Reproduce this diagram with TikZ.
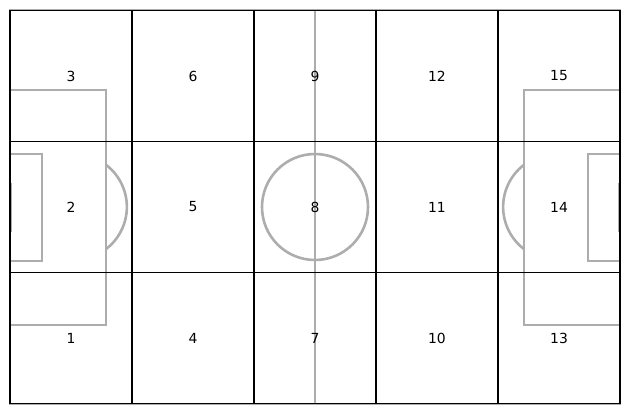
\documentclass[tikz,border=0pt]{standalone}
\usepackage{fontspec}
\setmainfont{DejaVu Sans}
\usepackage{xcolor}
\usepackage{tikz}
\definecolor{pitchgray}{HTML}{ADADAD}
\definecolor{zoneblack}{HTML}{000000}
\tikzset{every node/.append style={font=\fontsize{13.9}{16}\selectfont}}

\begin{document}
\begin{tikzpicture}[x=1pt,y=-1pt,
  pitch/.style={pitchgray,line width=2.6pt},
  zone/.style={draw=zoneblack,line width=1.4pt,minimum width=122pt,minimum height=131.33pt,inner sep=0pt}]
\useasboundingbox (0,0) rectangle (630,415);
% pitch markings
\draw[pitch] (10,10) rectangle (620,404);
\draw[pitch] (315,10)--(315,404);
\draw[pitch] (315,207) circle (53);
\draw[pitch] (10,90)--(106,90)--(106,325)--(10,325);
\draw[pitch] (10,154)--(42,154)--(42,261)--(10,261);
\draw[pitch] (106,164.8) arc[start angle=-52.7,end angle=52.7,radius=53];
\draw[pitch] (11,183)--(11,232);
\draw[pitch] (620,90)--(524,90)--(524,325)--(620,325);
\draw[pitch] (620,154)--(588,154)--(588,261)--(620,261);
\draw[pitch] (524,164.8) arc[start angle=232.7,end angle=127.3,radius=53];
\draw[pitch] (619,183)--(619,232);
% zones
\foreach \c in {0,...,4}
  \foreach \r in {0,1,2}{
    \pgfmathtruncatemacro{\n}{3*\c+3-\r}
    \node[zone] (z\n) at ({71+122*\c},{76+131*\r}) {\n};
  }
\end{tikzpicture}
\end{document}
